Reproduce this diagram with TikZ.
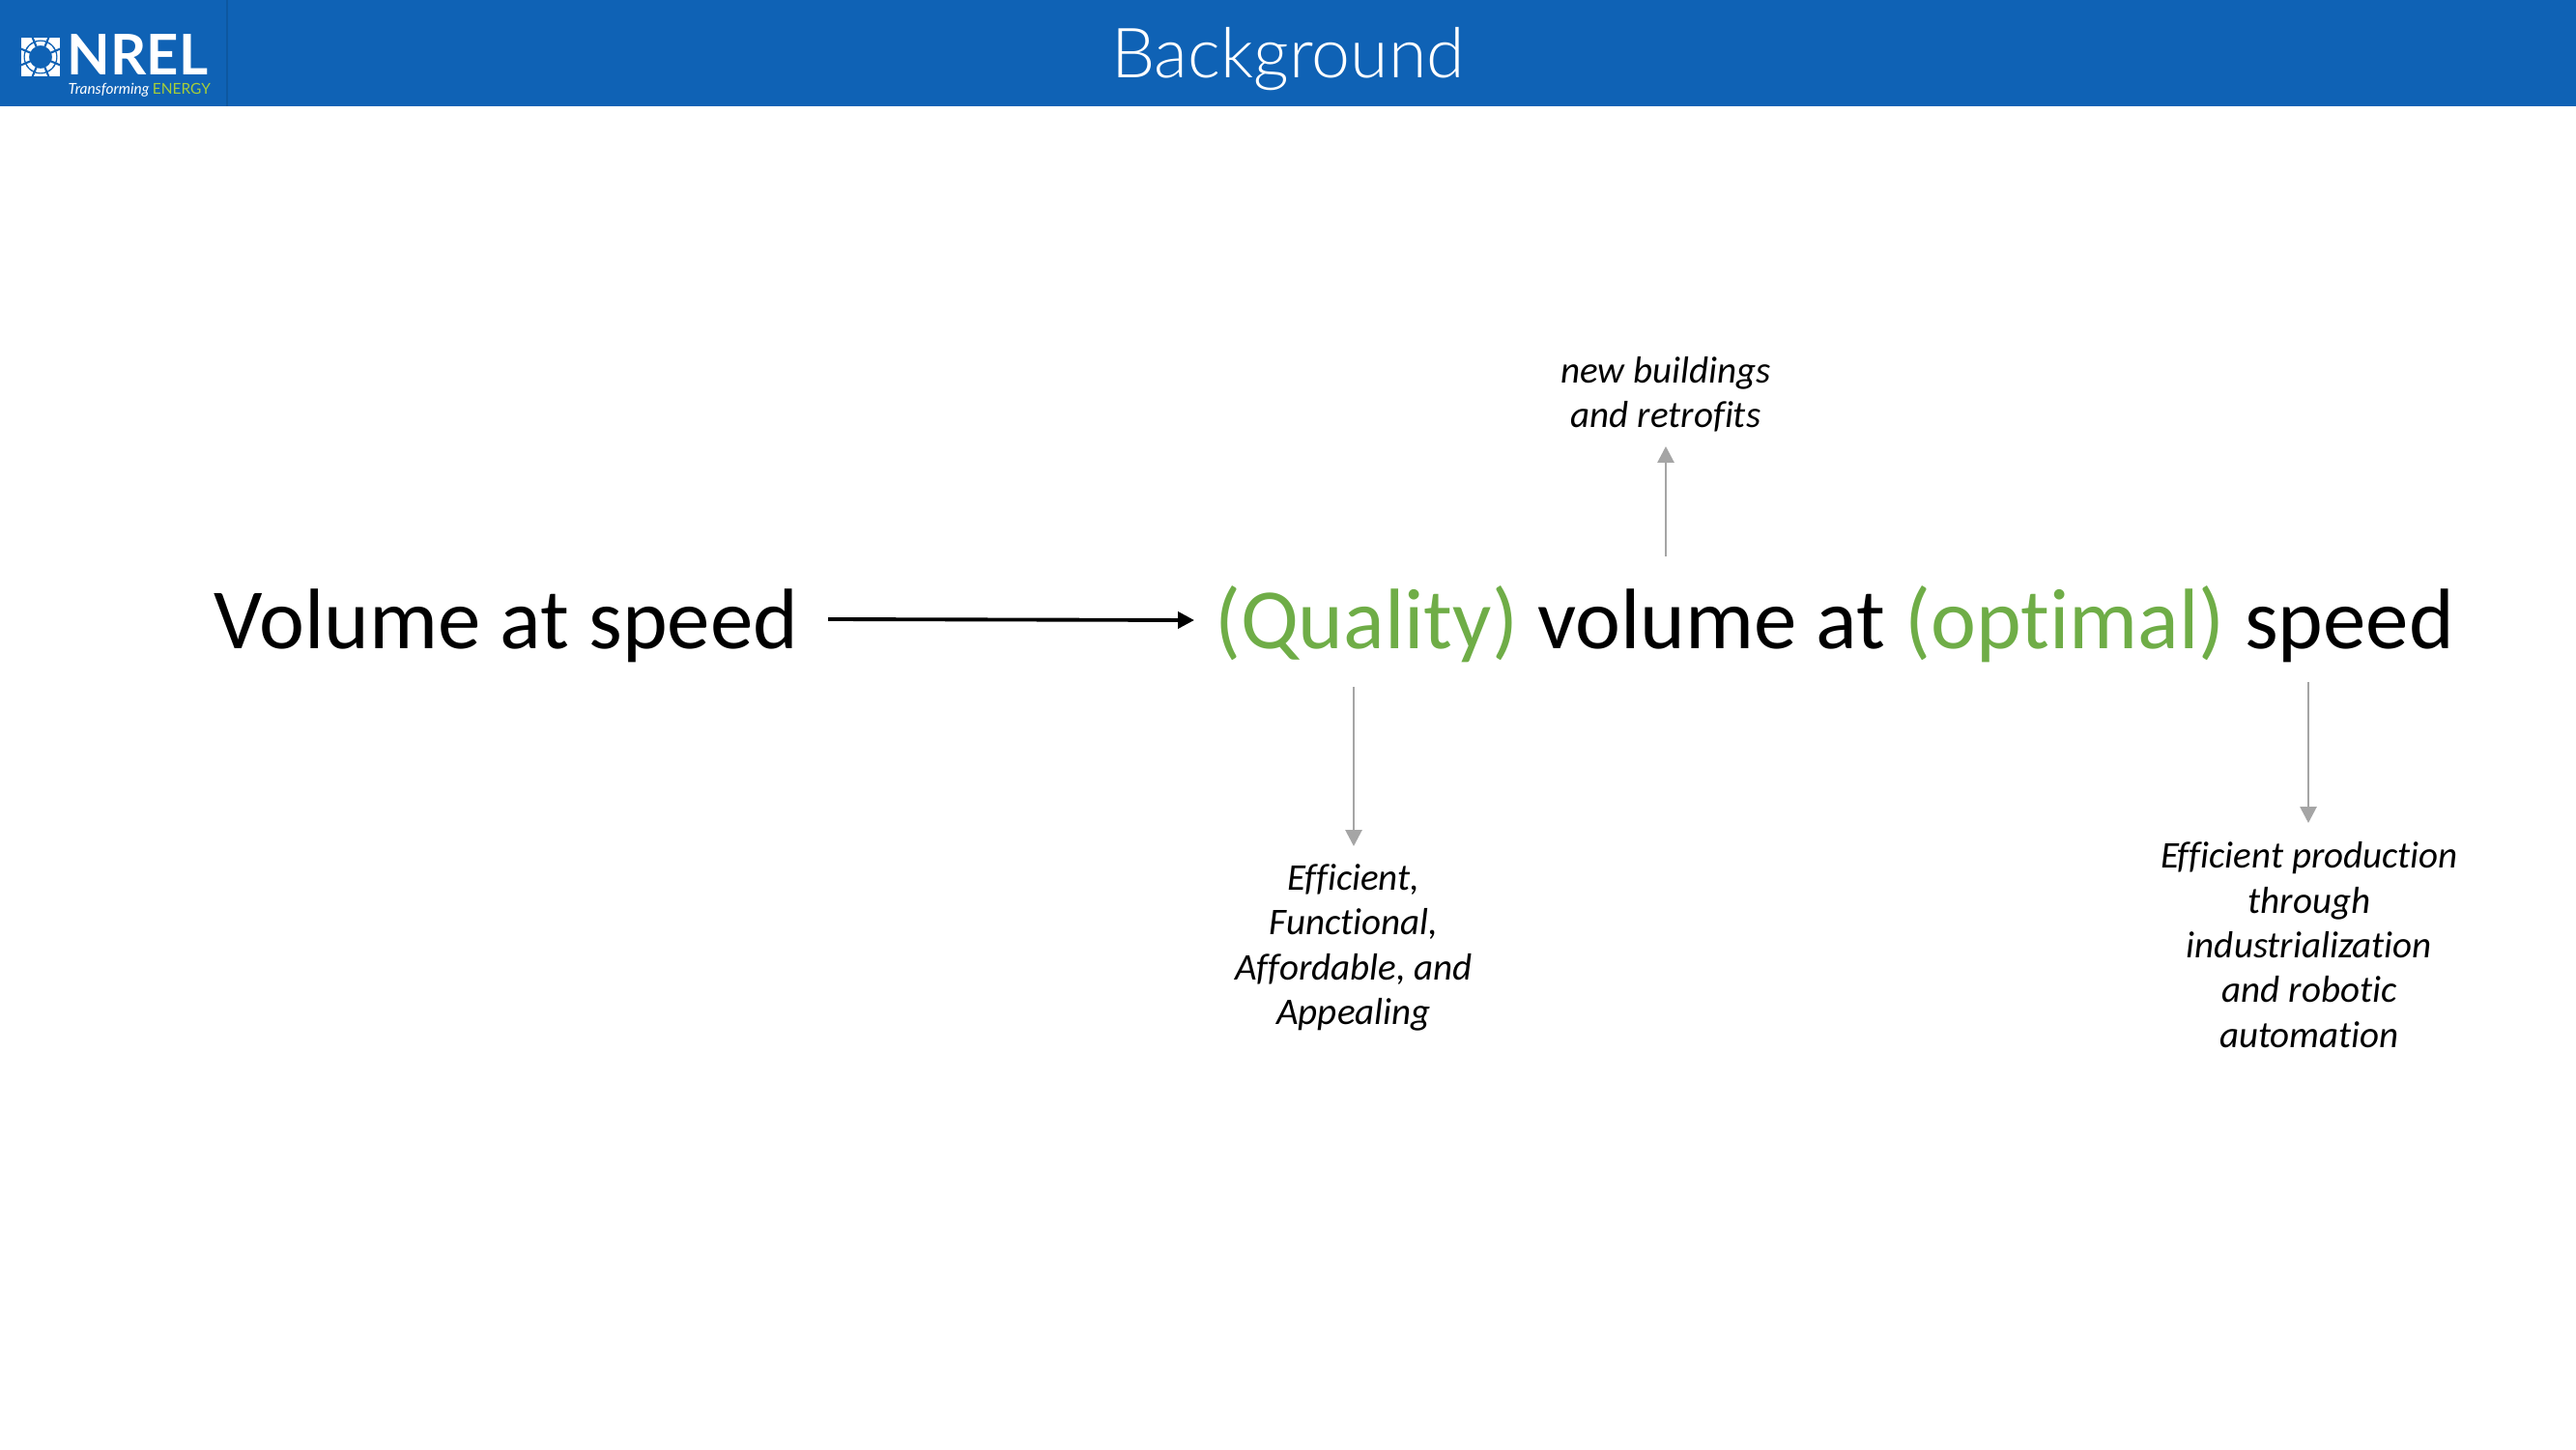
\documentclass[tikz,border=0pt]{standalone}
\usepackage{fontspec}
\setmainfont[Ligatures=NoCommon]{Carlito}
\newfontfamily\titlefont[UprightFont={* Light}]{Lato}
\newfontfamily\logofont{Lato}
\definecolor{nrelblue}{HTML}{0F62B5}
\definecolor{nreldark}{HTML}{0D57A0}
\definecolor{nrelgreen}{HTML}{A6CE39}
\definecolor{phrasegreen}{HTML}{6FAD47}
\definecolor{notegray}{HTML}{A5A5A5}
\usetikzlibrary{arrows.meta}
\tikzset{
  phrase/.style={inner sep=0pt, font=\fontsize{25.3}{30}\selectfont, anchor=base west},
  note/.style={inner sep=0pt, align=center, font=\fontsize{11.1}{13.2}\selectfont\itshape},
  notearrow/.style={draw=notegray, line width=0.8pt, -{Triangle[length=4.8pt,width=4.8pt]}},
}
\begin{document}
\begin{tikzpicture}
  \useasboundingbox (0,0) rectangle (26.66,15);
  % header
  \fill [nrelblue] (0,13.9) rectangle (26.66,15);
  \draw [nreldark, line width=0.5pt] (2.35,13.9) -- (2.35,15);
  \node (title) [white, inner sep=0pt, font=\titlefont\fontsize{20.4}{24}\selectfont, anchor=base] at (13.33,14.19) {Background};
  % logo
  \fill [white] (0.22,14.21) rectangle (0.62,14.61);
  \fill [nrelblue] (0.42,14.41) circle (0.175);
  \draw [white, line width=1.2pt] (0.42,14.41) circle (0.14);
  \foreach \a in {0,45,...,315} {
    \draw [nrelblue, line width=0.6pt] (0.42,14.41) ++(\a+22.5:0.09) -- ++(\a+22.5:0.2);
  };
  \node (logotext) [white, inner sep=0pt, anchor=base west, font=\logofont\bfseries\fontsize{16.5}{20}\selectfont] at (0.69,14.22) {NREL};
  \node (logotag) [white, inner sep=0pt, anchor=base west, font=\logofont\fontsize{4.4}{6}\selectfont] at (0.70,14.02) {\itshape Transforming \upshape\textcolor{nrelgreen}{ENERGY}};
  % phrases
  \node (oldphrase) [phrase] at (2.21,8.28) {Volume at speed};
  \node (newphrase) [phrase] at (12.565,8.28) {\textcolor{phrasegreen}{(Quality)} volume at \textcolor{phrasegreen}{(optimal)} speed};
  % notes
  \node (notebuild) [note, anchor=north] at (17.24,11.315) {new buildings\\and retrofits};
  \node (notequal) [note, anchor=north] at (14.01,6.06) {Efficient,\\Functional,\\Affordable, and\\Appealing};
  \node (notespeed) [note, anchor=north] at (23.90,6.29) {Efficient production\\through\\industrialization\\and robotic\\automation};
  % connectors
  \coordinate (oldend) at (8.57,8.59);
  \coordinate (newend) at (12.36,8.58);
  \coordinate (volumetop) at (17.24,9.24);
  \coordinate (buildfoot) at (17.24,10.38);
  \coordinate (qualityfoot) at (14.01,7.89);
  \coordinate (qualtop) at (14.01,6.24);
  \coordinate (speedfoot) at (23.89,7.94);
  \coordinate (speedtop) at (23.89,6.48);
  \draw [black, line width=1.1pt, -{Triangle[length=4.8pt,width=4.8pt]}] (oldend) -- (newend);
  \draw [notearrow] (volumetop) -- (buildfoot);
  \draw [notearrow] (qualityfoot) -- (qualtop);
  \draw [notearrow] (speedfoot) -- (speedtop);
\end{tikzpicture}
\end{document}
